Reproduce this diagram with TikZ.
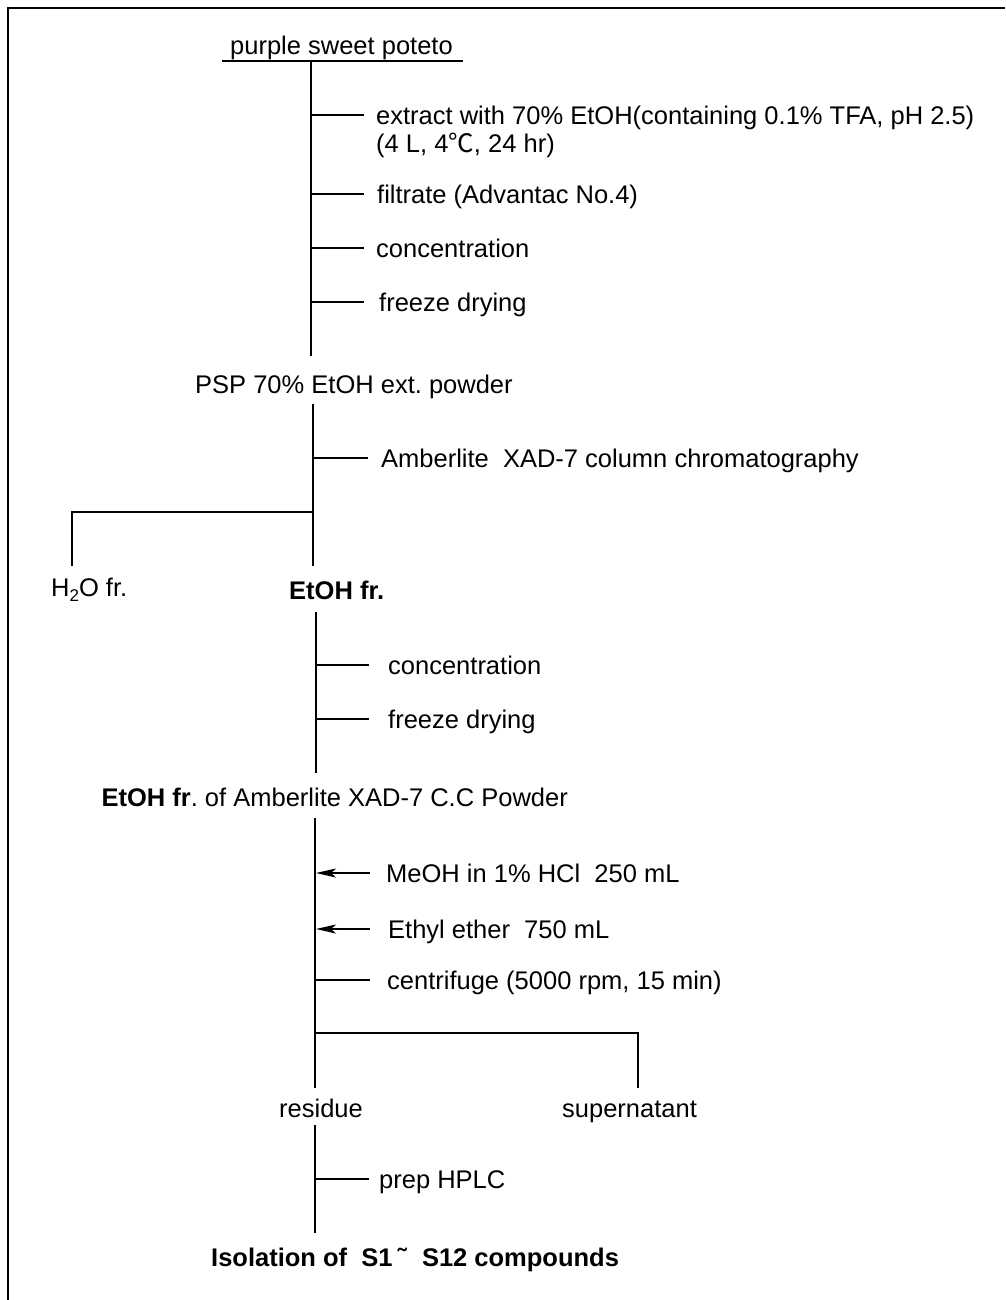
\documentclass[tikz,border=0pt]{standalone}
\usepackage{fontspec}
\setmainfont{Liberation Sans}
\newfontfamily\cjk{Noto Sans CJK SC}
\usetikzlibrary{arrows.meta}
\frenchspacing
\newcommand{\subtwo}{\raisebox{-0.22em}{\fontsize{17}{17}\selectfont 2}}
\begin{document}
\begin{tikzpicture}[x=1pt,y=-1pt,
  fnt/.style={font=\fontsize{25.5}{28}\selectfont},
  txt/.style={inner sep=0pt, anchor=west, text height=18.3pt, text depth=0pt, fnt},
  bld/.style={txt, font=\fontsize{25.5}{28}\selectfont\bfseries},
  ln/.style={line width=1.2pt},
  arr/.style={ln, -{Stealth[length=20pt,width=9pt,inset=5pt]}}]
\useasboundingbox (0,0) rectangle (1005,1300);
% frame
\draw[line width=2pt] (8,1300) -- (8,8) -- (1005,8);

% stage 1
\node[txt] (src) at (230,45) {purple sweet poteto};
\coordinate (ulL) at (222,61); \coordinate (ulR) at (463,61);
\draw[ln] (ulL) -- (ulR);
\coordinate (v1t) at (311,61); \coordinate (v1b) at (311,356);
\draw[ln] (v1t) -- (v1b);
\node[inner sep=0pt, anchor=north west, align=left, fnt] (s1) at (376,106)
  {extract with 70\% EtOH(containing 0.1\% TFA, pH 2.5)\\(4 L, 4{\cjk ℃}, 24 hr)};
\node[txt] (s2) at (377,194) {filtrate (Advantac No.4)};
\node[txt] (s3) at (376,248) {concentration};
\node[txt] (s4) at (379,302) {freeze drying};
\draw[ln] (311,115) -- (364,115);
\draw[ln] (311,194) -- (364,194);
\draw[ln] (311,248) -- (364,248);
\draw[ln] (311,302) -- (364,302);

% stage 2
\node[txt] (psp) at (195,384) {PSP 70\% EtOH ext. powder};
\coordinate (v2t) at (313,404); \coordinate (v2b) at (313,566);
\draw[ln] (v2t) -- (v2b);
\node[txt] (s5) at (381,458) {Amberlite\ \ XAD-7 column chromatography};
\draw[ln] (313,458) -- (368,458);
\coordinate (br1) at (313,512); \coordinate (h2ot) at (72,566);
\draw[ln] (br1) -| (h2ot);
\node[txt] (h2o) at (51,587) {H\subtwo O fr.};
\node[bld] (etoh) at (289,590) {EtOH fr.};

% stage 3
\coordinate (v3t) at (316,612); \coordinate (v3b) at (316,773);
\draw[ln] (v3t) -- (v3b);
\node[txt] (s6) at (388,665) {concentration};
\node[txt] (s7) at (388,719) {freeze drying};
\draw[ln] (316,665) -- (369,665);
\draw[ln] (316,719) -- (369,719);
\node[txt, anchor=east] (pow) at (568,797) {{\bfseries EtOH fr}. of Amberlite XAD-7 C.C Powder};

% stage 4
\coordinate (v4t) at (315,818); \coordinate (v4b) at (315,1088);
\draw[ln] (v4t) -- (v4b);
\node[txt] (s8) at (386,873) {MeOH in 1\% HCl\ \ 250 mL};
\node[txt] (s9) at (388,929) {Ethyl ether\ \ 750 mL};
\node[txt] (s10) at (387,980) {centrifuge (5000 rpm, 15 min)};
\coordinate (a1s) at (370,873); \coordinate (a1e) at (316,873);
\coordinate (a2s) at (370,929); \coordinate (a2e) at (316,929);
\draw[arr] (a1s) -- (a1e);
\draw[arr] (a2s) -- (a2e);
\draw[ln] (315,980) -- (370,980);
\coordinate (br2) at (315,1033); \coordinate (supt) at (638,1088);
\draw[ln] (br2) -| (supt);
\node[txt] (res) at (279,1108) {residue};
\node[txt] (sup) at (562,1108) {supernatant};

% stage 5
\coordinate (v5t) at (315,1125); \coordinate (v5b) at (315,1233);
\draw[ln] (v5t) -- (v5b);
\node[txt] (s11) at (379,1179) {prep HPLC};
\draw[ln] (315,1179) -- (369,1179);
\node[bld] (iso) at (211,1257) {Isolation of\ \ S1\hspace{5pt}˜\hspace{16pt}S12 compounds};
\end{tikzpicture}
\end{document}
